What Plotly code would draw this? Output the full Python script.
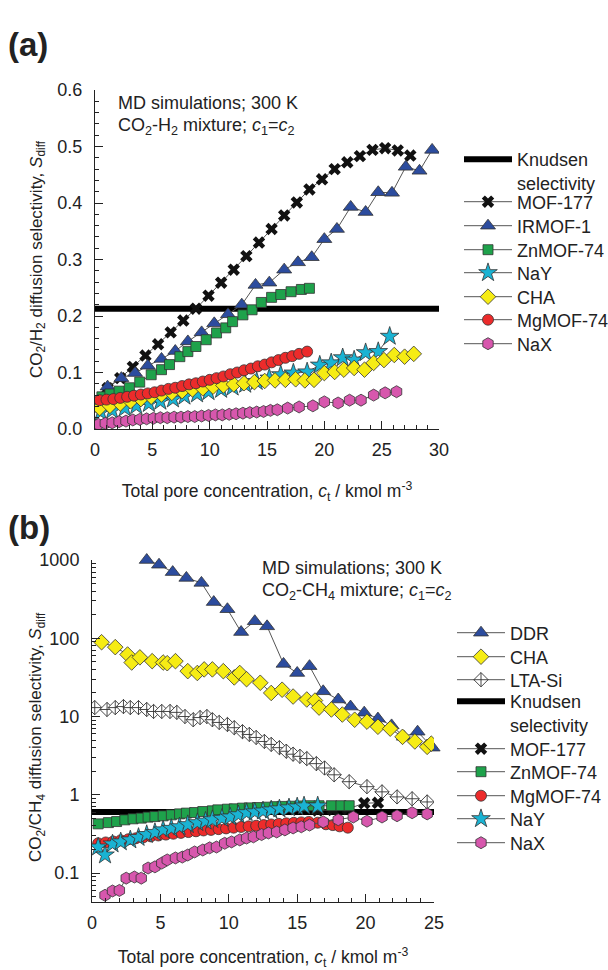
import plotly.graph_objects as go

FONT = "Liberation Sans, Arial, sans-serif"

# ---------------- Panel (a): CO2/H2 ----------------
a_knudsen_x = [0, 30]
a_knudsen_y = [0.213, 0.213]

a_mof177_x = [1.1, 2.2, 3.3, 4.4, 5.5, 6.6, 7.7, 8.8, 9.9, 11.0, 12.1, 13.2, 14.3,
              15.4, 16.5, 17.6, 18.7, 19.8, 20.9, 22.0, 23.1, 24.2, 25.3, 26.4, 27.5]
a_mof177_y = [0.072, 0.090, 0.110, 0.130, 0.150, 0.171, 0.192, 0.213, 0.236, 0.259,
              0.282, 0.306, 0.330, 0.354, 0.378, 0.401, 0.424, 0.442, 0.460, 0.472,
              0.483, 0.494, 0.497, 0.493, 0.484]

a_irmof1_x = [1.1, 2.3, 3.5, 4.6, 5.8, 7.0, 8.1, 9.3, 10.4, 11.6, 12.8, 14.0, 15.2,
              16.5, 17.7, 18.9, 20.0, 21.1, 22.3, 23.6, 24.7, 25.9, 27.1, 28.3, 29.4]
a_irmof1_y = [0.075, 0.090, 0.099, 0.112, 0.124, 0.138, 0.155, 0.171, 0.187, 0.203,
              0.220, 0.255, 0.259, 0.282, 0.295, 0.304, 0.336, 0.354, 0.393, 0.384,
              0.419, 0.418, 0.464, 0.457, 0.494]

a_znmof74_x = [0.6, 1.3, 2.1, 3.0, 3.9, 4.9, 5.8, 6.5, 7.4, 8.1, 8.8, 9.7, 10.6, 11.4,
               12.0, 12.9, 13.7, 14.5, 15.4, 16.2, 17.1, 18.0, 18.7]
a_znmof74_y = [0.057, 0.062, 0.067, 0.073, 0.083, 0.096, 0.105, 0.114, 0.128, 0.137,
               0.146, 0.158, 0.170, 0.179, 0.190, 0.202, 0.211, 0.224, 0.233, 0.238,
               0.243, 0.247, 0.249]

a_nay_x = [0.5, 1.5, 2.6, 3.6, 4.7, 5.7, 6.8, 7.8, 8.9, 9.9, 11.0, 12.0, 13.1, 14.1,
           15.2, 16.2, 17.3, 18.5, 19.6, 20.6, 21.6, 22.6, 23.6, 24.7, 25.7]
a_nay_y = [0.030, 0.033, 0.037, 0.041, 0.045, 0.049, 0.053, 0.058, 0.062, 0.066, 0.070,
           0.074, 0.079, 0.084, 0.090, 0.096, 0.099, 0.101, 0.113, 0.117, 0.126, 0.122,
           0.135, 0.137, 0.164]

a_cha_x = [0.4, 1.3, 2.2, 3.1, 4.0, 4.9, 5.8, 6.7, 7.6, 8.5, 9.4, 10.3, 11.2, 12.1,
           13.0, 13.9, 14.8, 15.7, 16.6, 17.5, 18.3, 19.1, 20.0, 20.9, 21.7, 22.6,
           23.5, 24.3, 25.2, 26.1, 27.0, 27.8]
a_cha_y = [0.037, 0.041, 0.045, 0.049, 0.053, 0.057, 0.061, 0.064, 0.067, 0.070, 0.072,
           0.075, 0.077, 0.079, 0.081, 0.083, 0.085, 0.086, 0.087, 0.088, 0.086, 0.087,
           0.099, 0.101, 0.105, 0.108, 0.105, 0.117, 0.122, 0.131, 0.128, 0.133]

a_mgmof74_x = [0.4, 1.0, 1.6, 2.2, 2.8, 3.4, 4.0, 4.6, 5.2, 5.8, 6.4, 7.0, 7.6, 8.2,
               8.8, 9.4, 10.0, 10.6, 11.2, 11.8, 12.4, 13.0, 13.6, 14.2, 14.8, 15.4,
               16.0, 16.6, 17.2, 17.8, 18.5]
a_mgmof74_y = [0.051, 0.052, 0.053, 0.055, 0.057, 0.059, 0.061, 0.063, 0.065, 0.068,
               0.071, 0.073, 0.076, 0.079, 0.081, 0.084, 0.087, 0.090, 0.093, 0.097,
               0.100, 0.104, 0.107, 0.111, 0.114, 0.118, 0.122, 0.126, 0.129, 0.133,
               0.137]

a_nax_x = [0.3, 0.9, 1.5, 2.1, 2.7, 3.3, 3.9, 4.5, 5.1, 5.7, 6.3, 6.9, 7.5, 8.1, 8.7,
           9.3, 9.9, 10.5, 11.1, 11.7, 12.3, 12.9, 13.5, 14.1, 14.7, 15.3, 15.9, 16.8,
           17.8, 19.0, 20.0, 21.2, 22.2, 23.2, 24.3, 25.3, 26.3]
a_nax_y = [0.008, 0.010, 0.011, 0.013, 0.014, 0.016, 0.017, 0.018, 0.019, 0.020, 0.020,
           0.021, 0.021, 0.022, 0.022, 0.023, 0.024, 0.025, 0.025, 0.026, 0.027, 0.028,
           0.029, 0.030, 0.031, 0.033, 0.034, 0.037, 0.039, 0.041, 0.048, 0.046, 0.051,
           0.051, 0.060, 0.064, 0.066]

# ---------------- Panel (b): CO2/CH4 ----------------
b_ddr_x = [4.0, 4.9, 5.9, 6.9, 8.0, 8.9, 9.9, 10.9, 11.9, 12.8, 14.0, 15.0, 15.9, 16.9,
           18.0, 18.9, 19.9, 20.9, 21.9, 22.8, 23.8, 24.9]
b_ddr_y = [1000, 870, 700, 590, 510, 290, 235, 120, 165, 142, 47, 36, 44, 21, 16.5,
           13.4, 11.2, 9.4, 7.7, 5.5, 6.4, 4.0]

b_cha_x = [0.7, 1.7, 2.6, 2.9, 3.5, 4.4, 5.2, 5.5, 6.1, 7.0, 7.7, 8.2, 8.8, 9.6, 10.4,
           10.8, 11.3, 12.3, 13.1, 13.9, 14.7, 15.7, 16.3, 16.6, 17.5, 18.3, 19.2,
           20.1, 20.9, 21.8, 22.7, 23.6, 24.5, 24.8]
b_cha_y = [89, 77, 62, 49, 57, 51, 49, 48, 51, 38, 36, 40, 40, 38, 31.6, 36, 30, 27,
           20, 22, 18, 16.5, 16, 13, 12.3, 10.6, 9.1, 8.6, 7.4, 7.0, 5.5, 4.8, 4.1, 4.5]

b_lta_x = [0.2, 1.1, 1.7, 2.3, 2.8, 3.4, 4.0, 4.5, 5.1, 5.7, 6.2, 6.8, 7.4, 7.9, 8.4,
           8.8, 9.3, 9.9, 10.4, 11.0, 11.5, 12.0, 12.6, 13.1, 13.7, 14.2, 14.7, 15.2,
           15.7, 16.4, 17.0, 17.7, 18.8, 20.1, 21.2, 22.3, 23.4, 24.5]
b_lta_y = [13.0, 12.3, 13.0, 13.4, 13.0, 13.0, 12.3, 11.6, 11.6, 11.6, 11.3, 10.0, 9.1,
           9.7, 10.0, 9.1, 8.4, 7.9, 7.2, 6.4, 5.9, 5.4, 4.8, 4.4, 4.0, 3.6, 3.3, 3.1,
           2.9, 2.5, 2.2, 1.8, 1.47, 1.27, 1.09, 0.94, 0.89, 0.81]

b_knudsen_x = [0, 25]
b_knudsen_y = [0.603, 0.603]

b_mof177_x = [16.5, 17.6, 18.7, 19.9, 20.9]
b_mof177_y = [0.63, 0.64, 0.66, 0.78, 0.79]

b_znmof74_x = [0.45, 1.2, 1.8, 2.4, 3.0, 3.6, 4.1, 4.6, 5.2, 5.8, 6.4, 6.9, 7.5, 8.1,
               8.8, 9.2, 9.9, 10.4, 11.0, 11.5, 12.1, 12.8, 13.4, 13.9, 14.6, 15.2,
               15.9, 16.6, 17.5, 18.2, 18.8]
b_znmof74_y = [0.425, 0.441, 0.455, 0.478, 0.493, 0.503, 0.518, 0.527, 0.538, 0.554,
               0.570, 0.583, 0.593, 0.611, 0.624, 0.642, 0.655, 0.662, 0.675, 0.680,
               0.687, 0.695, 0.705, 0.710, 0.715, 0.720, 0.725, 0.725, 0.725, 0.725,
               0.725]

b_mgmof74_x = [0.45, 1.0, 1.55, 2.1, 2.65, 3.2, 3.75, 4.3, 4.85, 5.4, 5.95, 6.5, 7.05,
               7.6, 8.15, 8.7, 9.25, 9.8, 10.35, 10.9, 11.45, 12.0, 12.55, 13.1, 13.65,
               14.2, 14.75, 15.3, 15.85, 16.5, 17.1, 17.6, 18.1, 18.7]
b_mgmof74_y = [0.240, 0.246, 0.253, 0.262, 0.270, 0.278, 0.286, 0.294, 0.302, 0.310,
               0.318, 0.326, 0.334, 0.342, 0.350, 0.356, 0.364, 0.372, 0.380, 0.388,
               0.395, 0.402, 0.410, 0.418, 0.425, 0.432, 0.438, 0.444, 0.450, 0.440,
               0.420, 0.410, 0.395, 0.380]

b_nay_x = [0.45, 0.95, 1.5, 2.1, 2.8, 3.4, 4.0, 4.6, 5.2, 5.8, 6.4, 7.0, 7.7, 8.3, 8.8,
           9.5, 10.1, 10.7, 11.3, 11.9, 12.5, 13.1, 13.7, 14.4, 15.0, 15.5, 16.5]
b_nay_y = [0.215, 0.170, 0.235, 0.250, 0.265, 0.285, 0.310, 0.330, 0.356, 0.372, 0.390,
           0.415, 0.440, 0.460, 0.480, 0.500, 0.520, 0.555, 0.590, 0.605, 0.620, 0.640,
           0.660, 0.680, 0.700, 0.720, 0.720]

b_nax_x = [0.95, 1.5, 2.0, 2.5, 3.1, 3.6, 4.1, 4.6, 5.1, 5.5, 6.1, 6.6, 7.0, 7.5, 8.1,
           8.6, 9.1, 9.7, 10.2, 10.8, 11.3, 11.8, 12.4, 12.9, 13.5, 14.1, 14.7, 15.3,
           15.9, 16.9, 18.0, 19.1, 20.1, 21.2, 22.3, 23.4, 24.5]
b_nax_y = [0.052, 0.059, 0.060, 0.086, 0.089, 0.086, 0.116, 0.120, 0.134, 0.147, 0.156,
           0.160, 0.170, 0.186, 0.197, 0.210, 0.215, 0.240, 0.250, 0.265, 0.280, 0.290,
           0.310, 0.325, 0.335, 0.356, 0.377, 0.390, 0.410, 0.450, 0.480, 0.520, 0.460,
           0.520, 0.540, 0.590, 0.570]

# Axis tick labels
a_xticks = [0, 5, 10, 15, 20, 25, 30]
a_yticks = [0.0, 0.1, 0.2, 0.3, 0.4, 0.5, 0.6]
b_xticks = [0, 5, 10, 15, 20, 25]
b_yticks = [0.1, 1, 10, 100, 1000]
b_yticklabels = ["0.1", "1", "10", "100", "1000"]

# Marker styles
LINE_GREY = "#555555"
EDGE = dict(color="#333333", width=0.8)
STYLES = {
    "MOF-177": dict(symbol="x", size=11, color="#111111", line=dict(width=0)),
    "IRMOF-1": dict(symbol="triangle-up", size=13, color="#2c4c9e", line=EDGE),
    "ZnMOF-74": dict(symbol="square", size=10, color="#1ea24b", line=EDGE),
    "NaY": dict(symbol="star", size=14, color="#1ab3d3", line=EDGE),
    "CHA": dict(symbol="diamond", size=12, color="#f6ec14", line=EDGE),
    "MgMOF-74": dict(symbol="circle", size=11, color="#ec2b2b", line=EDGE),
    "NaX": dict(symbol="hexagon", size=12, color="#d757ad", line=EDGE),
    "DDR": dict(symbol="triangle-up", size=13, color="#2c4c9e", line=EDGE),
    "LTA-Si": dict(symbol="diamond-cross", size=11, color="#ffffff",
                   line=dict(color="#333333", width=0.9)),
}

# Page geometry: the plotting area spans the full width and the top 902 px
W, H = 608, 970
MB = 68
PH = H - MB


def px(x):
    return x / W


def py(y):
    return (PH - y) / PH


fig = go.Figure()
legends = {}

# Legend rows (pixel row centres) and legend left edges for each panel
A_LEG_X, B_LEG_X = 459, 452
a_rows = [171, 202, 226, 250, 273, 297, 320, 344]
b_rows = [633, 657, 680, 713, 749, 772, 796, 819, 843]


def new_legend(x_px, y_px):
    key = "legend" if not legends else f"legend{len(legends) + 1}"
    legends[key] = dict(x=x_px / W, y=1 - y_px / H, xanchor="left", yanchor="middle",
                        xref="container", yref="container",
                        font=dict(size=18), bgcolor="rgba(0,0,0,0)", borderwidth=0,
                        itemwidth=48, valign="top")
    return key


def add_series(name, xs, ys, panel, row, clip=True):
    xa, ya = ("x", "y") if panel == "a" else ("x2", "y2")
    lx = A_LEG_X if panel == "a" else B_LEG_X
    fig.add_trace(go.Scatter(
        x=xs, y=ys, name=name, mode="lines+markers",
        line=dict(color=LINE_GREY, width=1), cliponaxis=clip,
        marker=STYLES[name], xaxis=xa, yaxis=ya, legend=new_legend(lx, row),
    ))


def add_knudsen(xs, ys, panel, row):
    xa, ya = ("x", "y") if panel == "a" else ("x2", "y2")
    lx = A_LEG_X if panel == "a" else B_LEG_X
    fig.add_trace(go.Scatter(
        x=xs, y=ys, name="Knudsen<br>selectivity", mode="lines",
        line=dict(color="#000000", width=6), xaxis=xa, yaxis=ya,
        legend=new_legend(lx, row),
    ))


# Panel (a)
add_knudsen(a_knudsen_x, a_knudsen_y, "a", a_rows[0])
add_series("MOF-177", a_mof177_x, a_mof177_y, "a", a_rows[1])
add_series("IRMOF-1", a_irmof1_x, a_irmof1_y, "a", a_rows[2])
add_series("ZnMOF-74", a_znmof74_x, a_znmof74_y, "a", a_rows[3])
add_series("NaY", a_nay_x, a_nay_y, "a", a_rows[4])
add_series("CHA", a_cha_x, a_cha_y, "a", a_rows[5])
add_series("MgMOF-74", a_mgmof74_x, a_mgmof74_y, "a", a_rows[6])
add_series("NaX", a_nax_x, a_nax_y, "a", a_rows[7])

# Panel (b)
add_series("DDR", b_ddr_x, b_ddr_y, "b", b_rows[0], clip=False)
add_series("CHA", b_cha_x, b_cha_y, "b", b_rows[1])
add_series("LTA-Si", b_lta_x, b_lta_y, "b", b_rows[2])
add_knudsen(b_knudsen_x, b_knudsen_y, "b", b_rows[3])
add_series("MOF-177", b_mof177_x, b_mof177_y, "b", b_rows[4])
add_series("ZnMOF-74", b_znmof74_x, b_znmof74_y, "b", b_rows[5])
add_series("MgMOF-74", b_mgmof74_x, b_mgmof74_y, "b", b_rows[6])
add_series("NaY", b_nay_x, b_nay_y, "b", b_rows[7])
add_series("NaX", b_nax_x, b_nax_y, "b", b_rows[8])

AX = dict(showline=True, linecolor="#222222", linewidth=1, ticks="inside",
          tickcolor="#222222", ticklen=8, tickwidth=1, showgrid=False,
          zeroline=False, mirror=False, tickfont=dict(size=18, color="#222222"),
          automargin=False)
XTITLE = "Total pore concentration, <i>c</i><sub>t</sub> / kmol m<sup>-3</sup>"
XT = dict(text=XTITLE, font=dict(size=17.5), standoff=26)

b_minor = [m * d for d in (0.01, 0.1, 1, 10, 100) for m in range(2, 10)]


def note(text, x, y, size=18, **kw):
    return dict(text=text, x=px(x), y=py(y), xref="paper", yref="paper",
                xanchor="left", yanchor="middle", showarrow=False,
                font=dict(size=size), **kw)


fig.update_layout(
    width=W, height=H, margin=dict(l=0, r=0, t=0, b=MB, autoexpand=False),
    paper_bgcolor="white", plot_bgcolor="white", showlegend=True,
    font=dict(family=FONT, size=18, color="#222222"),
    xaxis=dict(AX, domain=[px(95), px(439)], range=[0, 30], anchor="y",
               tickvals=a_xticks, ticklabelstandoff=4,
               minor=dict(ticks="inside", ticklen=4, dtick=1, tickcolor="#222222"),
               title=XT),
    yaxis=dict(AX, domain=[py(429), py(90)], range=[0, 0.6], anchor="x",
               tickvals=a_yticks, tickformat=".1f", ticklabelstandoff=8,
               minor=dict(ticks="inside", ticklen=4, dtick=0.02, tickcolor="#222222"),
               title=dict(text="CO<sub>2</sub>/H<sub>2</sub> diffusion selectivity, <i>S</i><sub>diff</sub>",
                          font=dict(size=17), standoff=10)),
    xaxis2=dict(AX, domain=[px(92), px(434)], range=[0, 25], anchor="y2",
                tickvals=b_xticks, ticklabelstandoff=4,
                minor=dict(ticks="inside", ticklen=4, dtick=1, tickcolor="#222222"),
                title=XT),
    yaxis2=dict(AX, domain=[0, py(560)], type="log", range=[-1.37, 3.0],
                anchor="x2", tickvals=b_yticks, ticktext=b_yticklabels, ticklabelstandoff=8,
                minor=dict(ticks="inside", ticklen=4, tickmode="array", tickvals=b_minor,
                           tickcolor="#222222")),
    annotations=[
        note("<b>(a)</b>", 6, 44, size=33),
        note("<b>(b)</b>", 6, 527, size=33),
        note("MD simulations; 300 K", 116, 103),
        note("CO<sub>2</sub>-H<sub>2</sub> mixture; <i>c</i><sub>1</sub>=<i>c</i><sub>2</sub>", 116, 127),
        note("MD simulations; 300 K", 260, 568),
        note("CO<sub>2</sub>-CH<sub>4</sub> mixture; <i>c</i><sub>1</sub>=<i>c</i><sub>2</sub>", 260, 591),
        dict(text="CO<sub>2</sub>/CH<sub>4</sub> diffusion selectivity, <i>S</i><sub>diff</sub>",
             x=px(37), y=py(737), xref="paper", yref="paper", textangle=-90,
             xanchor="center", yanchor="middle", showarrow=False, font=dict(size=17)),
    ],
    **legends,
)

fig.write_html("out.html")
